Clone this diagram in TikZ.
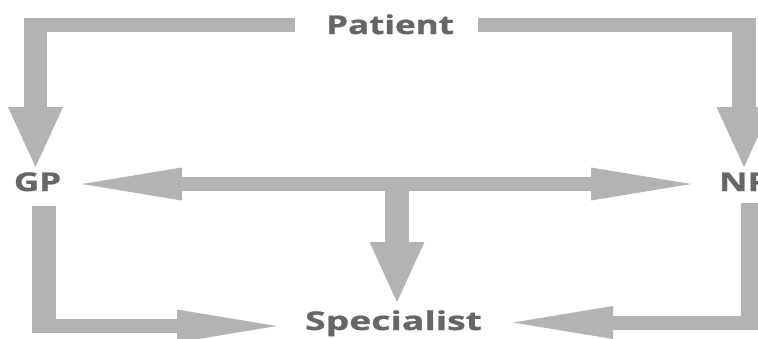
\documentclass[tikz,border=0pt]{standalone}
\usepackage{fontspec}
\usepackage{graphicx}
\setmainfont{Open Sans}[BoldFeatures={FakeBold=0.8}]
\usetikzlibrary{arrows.meta}
\definecolor{arrowgrey}{HTML}{B3B3B3}
\definecolor{textgrey}{HTML}{666666}
\tikzset{
  lbl/.style={text=textgrey, font=\fontsize{26}{26}\selectfont\bfseries, inner sep=0pt, anchor=base},
  headtip/.tip={Triangle[length=60bp,width=33bp,line width=0pt]},
  flow/.style={draw=arrowgrey, line width=14bp, line join=miter, line cap=butt, -headtip},
  flow2/.style={flow, headtip-headtip}
}
\newcommand{\wide}[2][1.35]{\scalebox{#1}[1]{#2}}
\begin{document}
\begin{tikzpicture}[x=1bp,y=-1bp]
\useasboundingbox (0,0) rectangle (758,338);
\node[lbl] (patient) at (390,34) {\wide{Patient}};
\node[lbl] (gp) at (37.5,191) {\wide{GP}};
\node[lbl, anchor=base west] (np) at (719,191) {\wide{NP}};
\node[lbl] (spec) at (393.5,330) {\wide[1.44]{Specialist}};
\begin{scope}[x=0.6bp, transform canvas={xscale=1.666667}]
  \coordinate (pL) at (295,25);
  \coordinate (pR) at (478,25);
  \coordinate (gpTop) at (35.5,167);
  \coordinate (npTop) at (744,167);
  \coordinate (gpR) at (82,184);
  \coordinate (npL) at (691,184);
  \coordinate (mid) at (397,184);
  \coordinate (specTop) at (397,302);
  \coordinate (gpBot) at (44,206);
  \coordinate (npBot) at (752.5,203);
  \coordinate (specL) at (277,326);
  \coordinate (specR) at (513,322.5);
  \draw[flow] (pL) -| (gpTop);
  \draw[flow] (pR) -| (npTop);
  \draw[flow2] (gpR) -- (npL);
  \draw[flow] (mid) -- (specTop);
  \draw[flow] (gpBot) |- (specL);
  \draw[flow] (npBot) |- (specR);
\end{scope}
\end{tikzpicture}
\end{document}
